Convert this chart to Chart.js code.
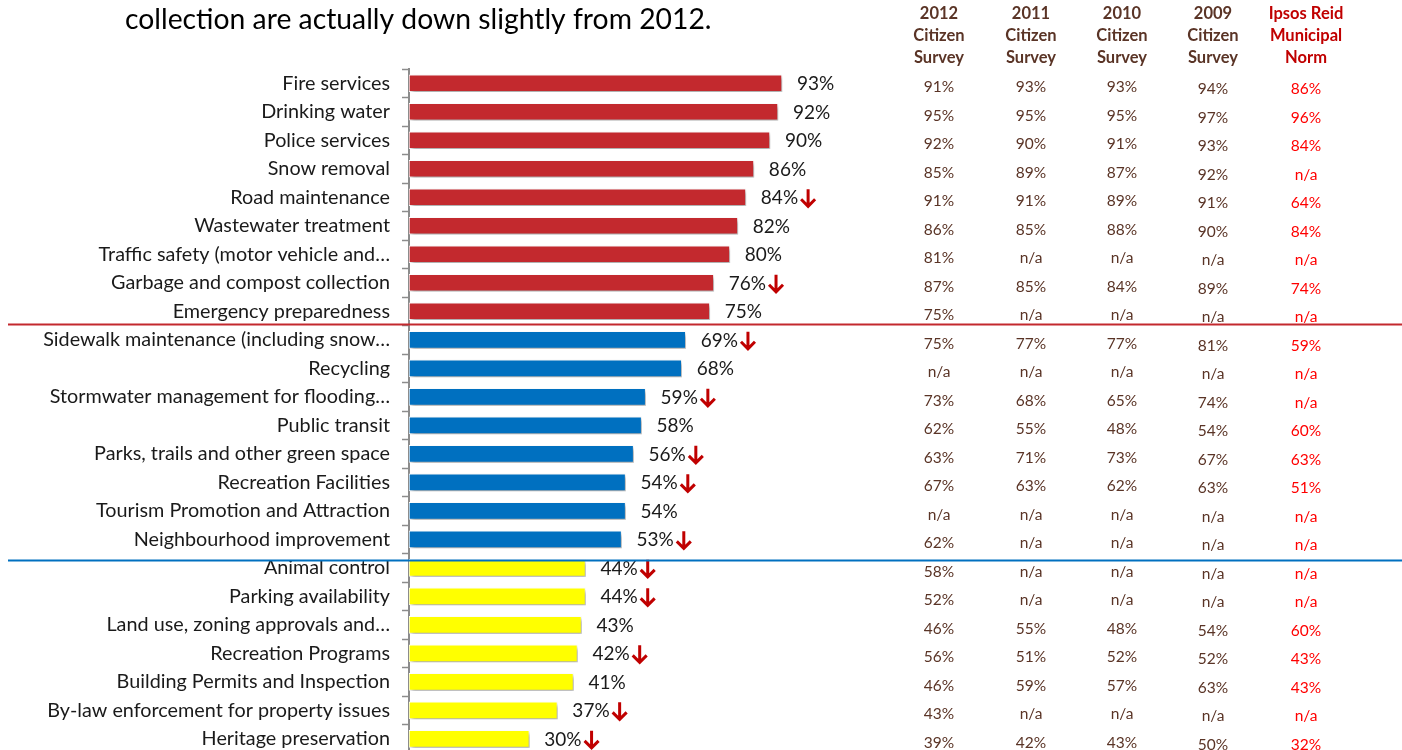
<!DOCTYPE html>
<html>
<head>
<meta charset="utf-8">
<script src="https://cdn.jsdelivr.net/npm/chart.js@4.4.0/dist/chart.umd.min.js"></script>
<style>
  html, body { margin: 0; padding: 0; background: #fff; overflow: hidden; }
  #wrap { position: relative; width: 1402px; height: 777px; }
</style>
</head>
<body>
<div id="wrap"><canvas id="services-chart" width="1402" height="777"></canvas></div>
<script>
const services = [
    'Fire services', 'Drinking water', 'Police services', 'Snow removal', 'Road maintenance',
    'Wastewater treatment', 'Traffic safety (motor vehicle and\u2026', 'Garbage and compost collection',
    'Emergency preparedness', 'Sidewalk maintenance (including snow\u2026', 'Recycling',
    'Stormwater management for flooding\u2026', 'Public transit', 'Parks, trails and other green space',
    'Recreation Facilities', 'Tourism Promotion and Attraction', 'Neighbourhood improvement',
    'Animal control', 'Parking availability', 'Land use, zoning approvals and\u2026',
    'Recreation Programs', 'Building Permits and Inspection', 'By-law enforcement for property issues',
    'Heritage preservation'
]
const importance2013 = [93, 92, 90, 86, 84, 82, 80, 76, 75, 69, 68, 59, 58, 56, 54, 54, 53, 44, 44, 43, 42, 41, 37, 30]
const tier = ['high', 'high', 'high', 'high', 'high', 'high', 'high', 'high', 'high',
    'mid', 'mid', 'mid', 'mid', 'mid', 'mid', 'mid', 'mid',
    'low', 'low', 'low', 'low', 'low', 'low', 'low']
// significant drop since the 2012 survey
const downFrom2012 = [false, false, false, false, true, false, false, true, false,
    true, false, true, false, true, true, false, true,
    true, true, false, true, false, true, true]

// comparison columns (null = n/a)
const survey2012 = [91, 95, 92, 85, 91, 86, 81, 87, 75, 75, null, 73, 62, 63, 67, null, 62, 58, 52, 46, 56, 46, 43, 39]
const survey2011 = [93, 95, 90, 89, 91, 85, null, 85, null, 77, null, 68, 55, 71, 63, null, null, null, null, 55, 51, 59, null, 42]
const survey2010 = [93, 95, 91, 87, 89, 88, null, 84, null, 77, null, 65, 48, 73, 62, null, null, null, null, 48, 52, 57, null, 43]
const survey2009 = [94, 97, 93, 92, 91, 90, null, 89, null, 81, null, 74, 54, 67, 63, null, null, null, null, 54, 52, 63, null, 50]
const ipsosNorm = [86, 96, 84, null, 64, 84, null, 74, null, 59, null, null, 60, 63, 51, null, null, null, null, 60, 43, 43, null, 32]

const columnHeaders = [
    ['2012', 'Citizen', 'Survey'],
    ['2011', 'Citizen', 'Survey'],
    ['2010', 'Citizen', 'Survey'],
    ['2009', 'Citizen', 'Survey'],
    ['Ipsos Reid', 'Municipal', 'Norm']
]
const columns = [survey2012, survey2011, survey2010, survey2009, ipsosNorm]

const tierColors = { high: '#c3292e', mid: '#0070c0', low: '#ffff00' }
const FONT = 'Lato, "Open Sans", sans-serif'

const barShadow = {
    id: 'barShadow',
    beforeDatasetsDraw(chart) {
        const ctx = chart.ctx
        ctx.save()
        ctx.shadowColor = 'rgba(0,0,0,0.35)'
        ctx.shadowBlur = 4
        ctx.shadowOffsetX = 2
        ctx.shadowOffsetY = 3
    },
    afterDatasetsDraw(chart) {
        chart.ctx.restore()
    }
}

function drawArrow(ctx, x, y) {
    ctx.save()
    ctx.strokeStyle = '#c00000'
    ctx.lineWidth = 3
    ctx.lineCap = 'butt'
    ctx.beginPath()
    ctx.moveTo(x + 7, y - 9)
    ctx.lineTo(x + 7, y + 8)
    ctx.moveTo(x, y + 1)
    ctx.lineTo(x + 7, y + 8)
    ctx.lineTo(x + 14, y + 1)
    ctx.stroke()
    ctx.restore()
}

const extras = {
    id: 'extras',
    afterDraw(chart) {
        const ctx = chart.ctx
        const yScale = chart.scales.y
        const meta = chart.getDatasetMeta(0)

        // value labels + drop arrows
        ctx.save()
        ctx.font = '19px ' + FONT
        ctx.fillStyle = '#1a1a1a'
        ctx.textBaseline = 'middle'
        ctx.textAlign = 'left'
        meta.data.forEach((bar, i) => {
            const text = importance2013[i] + '%'
            const x = bar.x + 15
            ctx.fillText(text, x, bar.y + 1)
            if (downFrom2012[i]) {
                drawArrow(ctx, x + ctx.measureText(text).width + 3, bar.y + 1)
            }
        })
        ctx.restore()

        // title line
        ctx.save()
        ctx.font = '28.3px ' + FONT
        ctx.fillStyle = '#000'
        ctx.textBaseline = 'middle'
        ctx.fillText('collection are actually down slightly from 2012.', 125, 20)
        ctx.restore()

        // comparison table
        const colX = [939, 1031, 1122, 1213, 1306]
        ctx.save()
        ctx.textAlign = 'center'
        ctx.textBaseline = 'middle'
        ctx.font = 'bold 16.5px ' + FONT
        columnHeaders.forEach((lines, c) => {
            ctx.fillStyle = c === 4 ? '#c00000' : '#5a3426'
            lines.forEach((line, k) => ctx.fillText(line, colX[c], 14 + k * 22))
        })
        ctx.font = '15.5px ' + FONT
        columns.forEach((col, c) => {
            ctx.fillStyle = c === 4 ? '#ff0000' : '#5a3426'
            col.forEach((v, i) => {
                const y = yScale.getPixelForValue(i) + 4 + (c >= 3 ? 2 : 0)
                ctx.fillText(v === null ? 'n/a' : v + '%', colX[c], y)
            })
        })
        ctx.restore()

        // tier separators
        ctx.save()
        ctx.lineWidth = 2
        let y = Math.round(yScale.getPixelForValue(8.46)) + 0.5
        ctx.strokeStyle = '#c3292e'
        ctx.beginPath(); ctx.moveTo(8, y); ctx.lineTo(1402, y); ctx.stroke()
        y = Math.round(yScale.getPixelForValue(16.71)) + 0.5
        ctx.strokeStyle = '#0070c0'
        ctx.beginPath(); ctx.moveTo(8, y); ctx.lineTo(1402, y); ctx.stroke()
        ctx.restore()
    }
}

const ctx = document.getElementById('services-chart')
const myChart = new Chart(ctx, {
    type: 'bar',
    data: {
        labels: services,
        datasets: [{
            label: 'Importance',
            data: importance2013,
            backgroundColor: tier.map(t => tierColors[t]),
            borderColor: '#ffffff',
            borderWidth: 1,
            borderSkipped: false,
            barThickness: 17
        }]
    },
    options: {
        indexAxis: 'y',
        responsive: false,
        animation: false,
        events: [],
        layout: {
            padding: { left: 0, top: 69, right: 592, bottom: 0 }
        },
        scales: {
            x: {
                display: false,
                min: 0,
                max: 100
            },
            y: {
                afterFit(scale) { scale.width = 409 },
                grid: {
                    offset: true,
                    drawOnChartArea: false,
                    drawTicks: true,
                    tickLength: 7,
                    tickColor: '#8c8c8c',
                    tickWidth: 1.5
                },
                border: { color: '#8c8c8c', width: 2 },
                ticks: {
                    autoSkip: false,
                    padding: 12,
                    color: '#1a1a1a',
                    font: { family: FONT, size: 19.8 }
                }
            }
        },
        plugins: {
            legend: { display: false },
            tooltip: { enabled: false }
        }
    },
    plugins: [barShadow, extras]
});
</script>
</body>
</html>
